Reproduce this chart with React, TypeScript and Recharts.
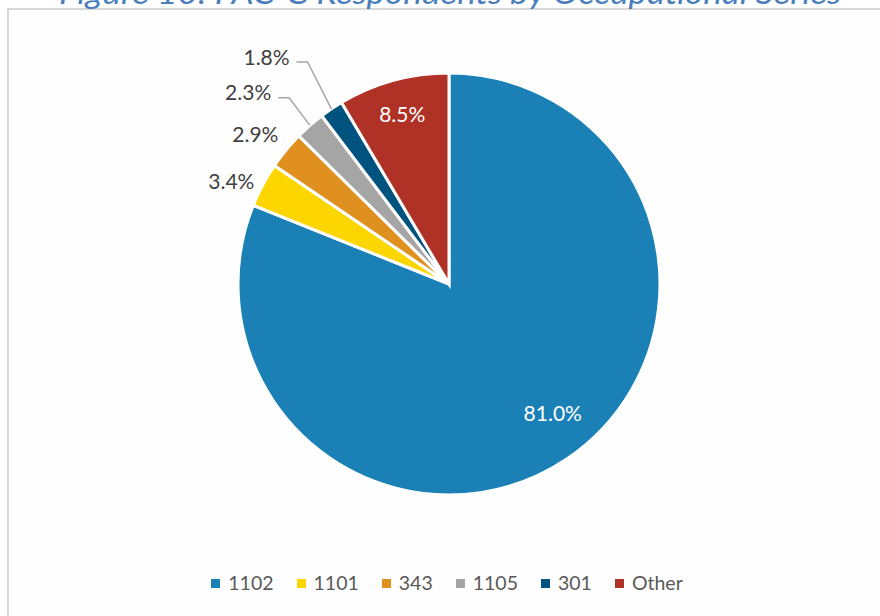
import React from 'react';
import { PieChart, Pie, Cell, Legend } from 'recharts';

const categories = ['1102', '1101', '343', '1105', '301', 'Other'];
const shares = [81.0, 3.4, 2.9, 2.3, 1.8, 8.5];
const colors = ['#1A80B6', '#FDD600', '#E0901F', '#A5A5A5', '#00537F', '#B03227'];
const titleText = 'Figure 10: FAC-C Respondents by Occupational Series';

const data = categories.map((name, i) => ({ name, value: shares[i] }));

// label placement relative to the slice: radial offset from outer radius, angle shift (deg)
const labelLayout: Record<string, { dr: number; shift: number; inside?: boolean; leader?: boolean }> = {
  '1102': { dr: -46, shift: 4.9, inside: true },
  '1101': { dr: 30, shift: 2.6 },
  '343': { dr: 34, shift: 1.6 },
  '1105': { dr: 67, shift: 5, leader: true },
  '301': { dr: 81, shift: 4.8, leader: true },
  Other: { dr: -34, shift: 0, inside: true },
};

const RAD = Math.PI / 180;
const FONT = 'Lato, "Open Sans", sans-serif';

const renderLabel = (props: any) => {
  const { cx, cy, midAngle, outerRadius, index } = props;
  const name = categories[index];
  const lay = labelLayout[name];
  const ang = (midAngle + lay.shift) * RAD;
  const r = outerRadius + lay.dr;
  const x = cx + r * Math.cos(ang);
  const y = cy - r * Math.sin(ang);
  const text = shares[index].toFixed(1) + '%';
  let line = null;
  if (lay.leader) {
    const ex = cx + outerRadius * Math.cos(midAngle * RAD);
    const ey = cy - outerRadius * Math.sin(midAngle * RAD);
    const hy = y + 6;
    line = (
      <polyline
        points={`${x + 30},${hy} ${x + 41},${hy} ${ex},${ey}`}
        fill="none"
        stroke="#A6A6A6"
        strokeWidth={1.5}
      />
    );
  }
  return (
    <g key={`lbl-${index}`}>
      {line}
      <text
        x={x}
        y={y}
        textAnchor="middle"
        dominantBaseline="central"
        fill={lay.inside ? '#FFFFFF' : '#404040'}
        fontSize={21}
        fontFamily={FONT}
      >
        {text}
      </text>
    </g>
  );
};

const renderLegend = () => (
  <div
    style={{
      display: 'flex',
      justifyContent: 'center',
      alignItems: 'center',
      fontFamily: FONT,
      fontSize: 19.5,
      color: '#595959',
      lineHeight: '24px',
    }}
  >
    {categories.map((c, i) => (
      <div
        key={c}
        style={{ display: 'flex', alignItems: 'center', marginRight: i < categories.length - 1 ? 23 : 0 }}
      >
        <span style={{ width: 9, height: 9, background: colors[i], display: 'inline-block', marginRight: 8 }} />
        <span>{c}</span>
      </div>
    ))}
  </div>
);

export default function App() {
  return (
    <div
      style={{
        position: 'absolute',
        left: 0,
        top: 0,
        width: 880,
        height: 616,
        overflow: 'hidden',
        background: '#FFFFFF',
      }}
    >
      <div
        style={{
          position: 'absolute',
          left: 7,
          top: 8,
          width: 900,
          height: 700,
          border: '2px solid #D9D9D9',
          background: '#FEFEFE',
        }}
      />
      <svg width={880} height={20} style={{ position: 'absolute', left: 0, top: 0 }}>
        <text
          x={450}
          y={4}
          textAnchor="middle"
          fontStyle="italic"
          fontSize={30}
          fontFamily={FONT}
          fill="#4A7EBB"
          textLength={782}
          lengthAdjust="spacingAndGlyphs"
        >
          {titleText}
        </text>
      </svg>
      <div style={{ position: 'absolute', left: 0, top: 0 }}>
        <PieChart width={880} height={616} margin={{ top: 0, right: 0, bottom: 0, left: 0 }}>
          <Pie
            data={data}
            dataKey="value"
            nameKey="name"
            cx={449}
            cy={284}
            outerRadius={211}
            startAngle={90}
            endAngle={-270}
            stroke="#FFFFFF"
            strokeWidth={3}
            label={renderLabel}
            labelLine={false}
            isAnimationActive={false}
          >
            {data.map((d, i) => (
              <Cell key={d.name} fill={colors[i]} />
            ))}
          </Pie>
          <Legend
            verticalAlign="bottom"
            align="left"
            content={renderLegend}
            wrapperStyle={{ left: 7, top: 571, width: 880, bottom: 'auto' }}
          />
        </PieChart>
      </div>
    </div>
  );
}
